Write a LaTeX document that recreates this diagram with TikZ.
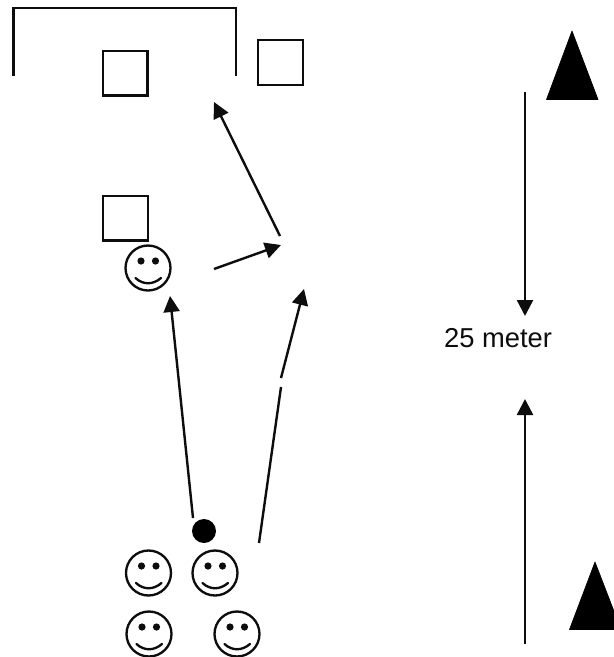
\documentclass[tikz,border=0pt]{standalone}
\usepackage{fontspec}
\setmainfont{Liberation Sans}
\usetikzlibrary{arrows.meta}
\tikzset{
  x=0.75pt, y=-0.75pt,
  ink/.style={line width=1.8pt, draw=black!95},
  thin ink/.style={line width=1.75pt, draw=black!95},
  arrowline/.style={ink, -{Triangle[length=12pt,width=12pt]}},
  plainline/.style={ink},
  box/.style={draw=black!95, line width=1.75pt, minimum size=33.5pt, inner sep=0pt, fill=white},
  ballnode/.style={circle, fill=black, minimum size=18pt, inner sep=0pt},
  cone/.style={fill=black, draw=black, line width=0.5pt, line join=round},
  smiley/.pic={
    \draw[thin ink] (0,0) circle[radius=22.5];
    \fill[black!95] (-7,-7) circle[radius=3.6];
    \fill[black!95] (7.5,-7) circle[radius=3.6];
    \draw[thin ink, line cap=round] (-12.5,10) .. controls (-5,17) and (5,17) .. (13,10);
  }
}
\begin{document}
\begin{tikzpicture}
\useasboundingbox (0,0) rectangle (614,657);
\clip (0,0) rectangle (614,657);
\fill[white] (0,0) rectangle (614,657);
% goal
\coordinate (gl) at (13.5,76);
\coordinate (gtl) at (13.5,8);
\coordinate (gtr) at (236,8);
\coordinate (gr) at (236,76);
\draw[plainline] (gl) -- (gtl) -- (gtr) -- (gr);
% boxes
\node[box] (b1) at (125,73) {};
\node[box] (b2) at (280.5,62.5) {};
\node[box] (b3) at (125.5,218) {};
% players
\pic at (148,268) {smiley};
\pic at (148.5,573) {smiley};
\pic at (215,573) {smiley};
\pic at (149,634) {smiley};
\pic at (237,634) {smiley};
% ball
\node[ballnode] (ball) at (204,531) {};
% arrows
\coordinate (a1s) at (280,236);
\coordinate (a1e) at (214,102);
\coordinate (a2s) at (214,269);
\coordinate (a2e) at (281,245);
\coordinate (a3s) at (193,518);
\coordinate (a3e) at (170,296);
\coordinate (a4s) at (259,543);
\coordinate (a4m) at (281,387);
\coordinate (a5s) at (281,378);
\coordinate (a5e) at (304,289);
\draw[arrowline] (a1s) -- (a1e);
\draw[arrowline] (a2s) -- (a2e);
\draw[arrowline] (a3s) -- (a3e);
\draw[plainline] (a4s) -- (a4m);
\draw[arrowline] (a5s) -- (a5e);
% distance
\coordinate (d1s) at (525,92);
\coordinate (d1e) at (525,316);
\coordinate (d2s) at (525,644);
\coordinate (d2e) at (525,399);
\draw[arrowline] (d1s) -- (d1e);
\draw[arrowline] (d2s) -- (d2e);
\node[inner sep=0pt, font=\fontsize{20.5pt}{24pt}\selectfont, text=black!95] (lbl) at (498,338) {25 meter};
% cones
\path[cone] (572,31) -- (546.5,99.5) -- (598,99.5) -- cycle;
\path[cone] (595,562) -- (569.5,629.5) -- (621,629.5) -- cycle;
\end{tikzpicture}
\end{document}
